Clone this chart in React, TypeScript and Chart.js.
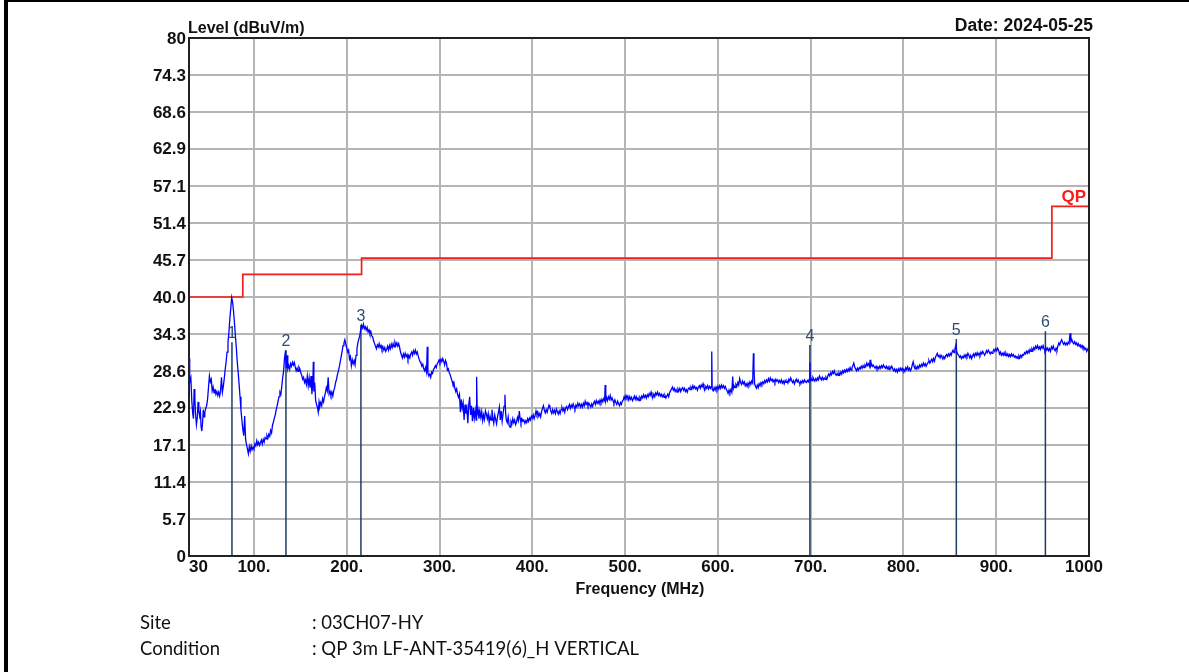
import React, { useEffect, useRef } from "react";
import { Chart, registerables } from "chart.js";

Chart.register(...registerables);

// ---------- axis ticks ----------
const yTicks = [0, 5.7, 11.4, 17.1, 22.9, 28.6, 34.3, 40.0, 45.7, 51.4, 57.1, 62.9, 68.6, 74.3, 80];
const yTickLabels = ["0", "5.7", "11.4", "17.1", "22.9", "28.6", "34.3", "40.0", "45.7", "51.4", "57.1", "62.9", "68.6", "74.3", "80"];
const xTicks = [30, 100, 200, 300, 400, 500, 600, 700, 800, 900, 1000];
const xTickLabels = ["30", "100.", "200.", "300.", "400.", "500.", "600.", "700.", "800.", "900.", "1000"];

// ---------- QP limit (MHz, dBuV/m) ----------
const limitFreq = [30, 88, 216, 960, 1000];
const limitLevel = [40, 43.5, 46, 54, 54];

// ---------- markers ----------
const markerNames = ["1", "2", "3", "4", "5", "6"];
const markerFreq = [76.3, 134.5, 215.3, 699.2, 857.0, 953.0];
const markerLevel = [33.0, 31.8, 35.7, 32.6, 33.5, 34.7];

// ---------- measured trace [MHz, dBuV/m] ----------
const traceLow: [number, number][] = [
  [30, 30.5], [30.5, 29.0], [31, 26.8], [32, 27.5], [33, 24.0], [34, 22.0], [34.8, 21.2], [35.5, 25.8], [36.3, 24.5], [37, 22.0],
  [38, 20.3], [39, 21.5], [39.8, 23.8], [40.6, 22.4], [41.5, 21.6], [42.3, 22.3], [43, 20.0], [43.8, 19.3], [44.6, 20.5], [45.4, 22.6],
  [46.2, 21.5], [47, 22.1], [48, 22.8], [49, 23.2], [50, 24.2], [51, 26.0], [52, 27.8], [53, 26.9], [54, 27.3], [55, 25.5],
  [56, 26.1], [57, 25.2], [58, 25.8], [59, 25.0], [60, 25.4], [61, 24.8], [62, 25.3], [63, 24.7], [64, 25.5], [65, 27.6],
  [66, 25.3], [67, 26.2], [68, 27.4], [69, 28.8], [70, 30.0], [71, 31.5], [72, 33.0], [73, 34.5], [74, 36.6], [75, 38.2],
  [76, 39.9], [77, 39.2], [78, 37.8], [79, 36.0], [80, 34.0], [81, 32.2], [82, 30.0], [83, 28.4], [84, 26.5], [85, 24.6],
  [86, 22.5], [87, 21.0], [88, 19.6], [89, 18.6], [90, 21.6], [91, 18.0], [92, 17.2], [93, 16.5], [94, 15.8], [95, 16.9],
  [96, 16.2], [97, 17.0], [98, 16.4], [99, 16.8], [100, 16.5], [101, 17.3], [102, 17.0], [103, 17.8], [104, 17.2], [105, 17.6],
  [106, 17.1], [107, 17.5], [108, 17.9], [109, 17.3], [110, 18.0], [111, 17.6], [112, 18.3], [113, 18.1], [114, 18.6], [115, 18.2],
  [116, 18.8], [117, 18.5], [118, 19.4], [119, 19.0], [120, 20.2], [121, 20.7], [122, 21.3], [123, 21.8], [124, 22.6], [125, 23.2],
  [126, 23.9], [127, 24.6], [128, 25.3], [129, 25.0], [130, 26.2], [131, 27.6], [132, 28.6], [133, 30.6], [134, 31.7], [135, 29.0],
  [135.8, 31.0], [136.5, 28.9], [137.5, 29.4], [138.5, 28.8], [139.5, 29.7], [140.5, 29.3], [141.5, 29.9], [142.5, 29.5], [143.5, 29.9], [144.5, 29.2],
  [145.5, 28.6], [146.5, 29.0], [147.5, 28.5], [148.5, 29.2], [149.5, 28.9], [150.5, 28.3], [151.5, 27.9], [152.5, 27.3], [153.5, 27.6], [154.5, 26.8],
  [155.5, 27.2], [156.5, 26.5], [157.5, 27.8], [158.5, 26.3], [159.5, 27.5], [160.5, 26.0], [161.5, 27.8], [162.5, 25.0], [163.5, 27.0], [164, 30.0],
  [164.6, 25.4], [165.5, 26.8], [166.5, 24.0], [167.5, 23.4], [168.5, 22.9], [169.3, 22.2], [170.2, 23.8], [171, 23.1], [172, 23.7], [173, 23.2],
  [174, 24.3], [175, 23.8], [176, 24.6], [177, 25.2], [178, 26.0], [179, 25.5], [180, 27.6], [181, 25.0], [182, 25.4], [183, 24.8],
  [184, 25.3], [185, 24.7], [186, 25.5], [187, 26.0], [188, 26.8], [189, 27.3], [190, 28.0], [191, 28.6], [192, 29.2], [193, 30.0],
  [194, 30.8], [195, 31.6], [196, 32.5], [197, 32.9], [198, 33.4], [199, 32.7], [200, 32.1], [201, 31.5], [202, 31.8], [203, 30.4],
  [204, 30.8], [205, 29.4], [206, 30.3], [207, 29.7], [208, 30.2], [209, 29.5], [210, 31.0], [211, 32.0], [212, 32.9], [213, 33.5],
  [214, 34.0], [215, 34.9], [216, 35.6], [217, 35.2], [218, 35.8], [219, 35.1], [220, 35.4], [221, 34.9], [222, 35.3], [223, 34.6],
  [224, 34.9], [225, 34.3], [226, 34.6], [227, 34.0], [228, 33.8], [229, 33.2], [230, 32.8], [231, 32.4], [232, 32.0], [233, 32.6],
  [234, 32.3], [235, 32.8], [236, 32.2], [237, 32.5], [238, 31.9], [239, 32.3], [240, 31.8], [241, 32.2], [242, 31.6], [243, 31.9],
  [244, 32.4], [245, 31.8], [246, 32.5], [247, 32.0], [248, 32.7], [249, 32.2], [250, 32.8], [251, 32.3], [252, 33.0], [253, 32.5],
  [254, 32.9], [255, 32.4], [256, 32.8], [257, 32.2], [258, 31.5], [259, 31.0], [260, 30.6]
];

const traceMid: [number, number][] = [
  [261, 31.2], [262, 30.7], [263, 31.3], [264, 30.8], [265, 31.1], [266, 30.4], [267, 31.0], [268, 30.6], [269, 31.2], [270, 31.5],
  [271, 31.0], [272, 31.7], [273, 31.3], [274, 31.8], [275, 31.2], [276, 31.5], [277, 30.9], [278, 30.4], [279, 30.0], [280, 29.8],
  [281, 29.3], [282, 29.6], [283, 28.9], [284, 28.6], [285, 29.1], [286, 28.4], [286.8, 32.3], [287.5, 28.3], [288.5, 27.8], [289.5, 28.1],
  [290.5, 27.6], [291.5, 28.4], [292.5, 28.2], [293.5, 28.8], [294.5, 29.0], [295.5, 29.4], [296.5, 29.1], [297.5, 29.7], [298.5, 29.9], [299.5, 30.3],
  [300.5, 29.9], [301.5, 30.4], [302.5, 30.0], [303.5, 30.5], [304.5, 30.1], [305.5, 29.5], [306.5, 30.2], [307.5, 29.8], [308.5, 28.7], [309.5, 28.9],
  [310.5, 28.3], [311.5, 28.0], [312.5, 27.5], [313.5, 27.0], [314.5, 26.5], [315.5, 26.8], [316.5, 25.9], [317.5, 25.4], [318.5, 25.8], [319.5, 24.9],
  [320.5, 24.5], [321.5, 25.0], [322.5, 22.2], [323.5, 24.2], [324.5, 22.8], [325.5, 23.6], [326.5, 21.0], [327.5, 23.4], [328.5, 22.0], [329.5, 22.8],
  [330.5, 20.5], [331.5, 23.3], [332.5, 24.6], [333.5, 21.8], [334.5, 23.2], [335.5, 20.8], [336.5, 22.9], [337.5, 21.3], [338.5, 22.5], [339.5, 21.0],
  [340, 27.7], [340.7, 22.0], [341.5, 22.6], [342.5, 21.2], [343.5, 22.4], [344.5, 21.4], [345.5, 22.3], [346.5, 20.9], [347.5, 21.8], [348.5, 21.1],
  [349.5, 22.4], [350.5, 21.9], [351.5, 21.2], [352.5, 22.0], [353.5, 20.6], [354.5, 21.6], [355.5, 21.0], [356.5, 22.6], [357.5, 21.3], [358.5, 20.5],
  [359.5, 21.8], [360.5, 21.1], [361.5, 20.4], [362.5, 21.5], [363.5, 22.2], [364.5, 23.0], [365.5, 21.0], [366.5, 22.4], [367.5, 20.8], [368.5, 22.0],
  [369.5, 23.1], [370.5, 24.9], [371.3, 22.0], [372, 21.0], [373, 20.6], [374, 21.5], [375, 20.2], [376, 19.9], [377, 20.8], [378, 20.4],
  [379, 21.2], [380, 20.6], [381, 21.0], [382, 20.3], [383, 20.7], [384, 21.4], [385, 20.9], [386, 22.4], [386.8, 21.3], [387.8, 20.6],
  [388.8, 21.2], [389.8, 20.8], [390.8, 21.0], [392, 20.5], [393, 20.9], [394, 20.6], [395, 21.2], [396, 20.8], [397, 21.3], [398, 21.0],
  [399, 21.6], [400, 21.3], [401, 21.8], [402, 21.2], [403, 21.7], [404, 22.4], [405, 21.8], [406, 22.2], [407, 21.6], [408, 22.0],
  [409, 21.5], [410, 22.3], [411, 22.8], [412, 23.2], [413, 22.5], [414, 22.1], [415, 22.6], [416, 22.2], [417, 22.8], [418, 23.3],
  [419, 22.9], [420, 22.4], [421, 22.0], [422, 22.6], [423, 22.1], [424, 22.5], [425, 22.0], [426, 22.7], [427, 22.3], [428, 21.9],
  [429, 22.4], [430, 22.0], [431, 22.6], [432, 22.9], [433, 22.4], [434, 22.8], [435, 22.2], [436, 22.9], [437, 23.1], [438, 22.6],
  [439, 23.0], [440, 23.4], [441, 22.8], [442, 23.3], [443, 23.0], [444, 23.5], [445, 23.1], [446, 22.7], [447, 23.3], [448, 23.0],
  [449, 23.6], [450, 23.2], [451, 23.5], [452, 23.0], [453, 23.4], [454, 23.0], [455, 23.6], [456, 23.2], [457, 23.9], [458, 23.4],
  [459, 23.7], [460, 23.2], [461, 23.6], [462, 23.3], [463, 23.0], [464, 23.5], [465, 23.1], [466, 23.6], [467, 23.9], [468, 23.4],
  [469, 24.0], [470, 23.6], [471, 23.9], [472, 23.5], [473, 24.1], [474, 23.7], [475, 24.2], [476, 23.8], [477, 24.3], [478, 24.0],
  [478.5, 26.4], [479.2, 24.0], [480, 24.5], [481, 24.0], [482, 24.6], [483, 24.2], [484, 24.8], [485, 24.1], [486, 24.4], [487, 24.0],
  [488, 23.6], [489, 24.1], [490, 23.7], [491, 23.4], [492, 23.9], [493, 23.5], [494, 23.2], [495, 23.7], [496, 23.4], [497, 23.9],
  [498, 24.1], [499, 24.6], [500, 24.2], [501, 24.8], [502, 24.4], [503, 24.7], [504, 24.1], [505, 24.6], [506, 24.2], [507, 24.5],
  [508, 24.0], [509, 24.3], [510, 24.7], [511, 24.2], [512, 24.6], [513, 24.1], [514, 24.4], [515, 24.0], [516, 24.5], [517, 24.2],
  [518, 24.7], [519, 24.4], [520, 24.9], [521, 24.5], [522, 24.8], [523, 24.4], [524, 24.9], [525, 24.6], [526, 25.1], [527, 24.8],
  [528, 25.3], [529, 24.7], [530, 24.5], [531, 25.0], [532, 24.6], [533, 25.2], [534, 24.9], [535, 25.3], [536, 24.8], [537, 25.1],
  [538, 24.7], [539, 25.0], [540, 24.6], [541, 24.9], [542, 24.5], [543, 24.8], [544, 24.4], [545, 24.7], [546, 25.0], [547, 24.6],
  [548, 25.2], [549, 25.5], [550, 25.8], [551, 26.1], [552, 25.6], [553, 25.9], [554, 25.4], [555, 25.7], [556, 25.3], [557, 25.8],
  [558, 25.5], [559, 25.9], [560, 25.4], [561, 25.8], [562, 26.0], [563, 25.6], [564, 25.9], [565, 25.4], [566, 25.7], [567, 25.3],
  [568, 25.8], [569, 26.0], [570, 25.7], [571, 26.1], [572, 25.8], [573, 26.3], [574, 25.9], [575, 26.2], [576, 25.8], [577, 26.0],
  [578, 25.6], [579, 26.1], [580, 26.3], [581, 25.9], [582, 26.4], [583, 26.1], [584, 26.6], [585, 26.0], [586, 25.7], [587, 26.2],
  [588, 25.9], [589, 26.3], [590, 25.8], [591, 26.2], [592, 25.9], [593, 26.2], [593.4, 31.6], [593.9, 25.7], [595, 25.5], [596, 26.0],
  [597, 25.6], [598, 26.1], [599, 25.7], [600, 26.2]
];

const traceHigh: [number, number][] = [
  [601, 25.8], [602, 26.3], [603, 25.9], [604, 26.4], [605, 26.0], [606, 26.3], [607, 25.9], [608, 26.2], [609, 25.8], [610, 25.5],
  [611, 25.1], [612, 25.6], [613, 25.2], [614, 25.7], [615, 25.3], [616, 27.7], [616.7, 25.9], [617.5, 26.3], [618.5, 26.0], [619.5, 26.5],
  [620.5, 26.2], [621.5, 26.8], [622.5, 26.4], [623.5, 27.4], [624.5, 26.8], [625.5, 26.5], [626.5, 27.0], [627.5, 26.6], [628.5, 26.9], [629.5, 26.3],
  [630.5, 26.6], [631.5, 26.2], [632.5, 26.7], [633.5, 26.4], [634.5, 26.9], [635.5, 26.5], [636.5, 27.0], [637.5, 26.7], [638.3, 31.3], [638.9, 29.0],
  [639.6, 26.6], [640.5, 26.2], [641.5, 25.9], [642.5, 26.4], [643.5, 26.0], [644.5, 26.6], [645.5, 26.3], [646.5, 26.8], [647.5, 26.5], [648.5, 26.9],
  [649.5, 26.6], [650.5, 27.1], [651.5, 26.8], [652.5, 27.2], [653.5, 26.9], [654.5, 27.4], [655.5, 27.0], [656.5, 27.5], [657.5, 27.1], [658.5, 27.3],
  [659.5, 26.9], [660.5, 27.2], [661.5, 26.8], [662.5, 27.3], [663.5, 27.0], [664.5, 27.2], [665.5, 26.8], [666.5, 27.1], [667.5, 26.8], [668.5, 27.2],
  [669.5, 26.7], [670.5, 27.0], [671.5, 26.6], [672.5, 27.1], [673.5, 26.8], [674.5, 27.0], [675.5, 26.7], [676.5, 27.3], [677.5, 27.0], [678.5, 27.5],
  [679.5, 27.1], [680.5, 26.8], [681.5, 27.1], [682.5, 26.6], [683.5, 27.0], [684.5, 27.3], [685.5, 26.9], [686.5, 27.2], [687.5, 26.8], [688.5, 26.6],
  [689.5, 27.0], [690.5, 26.7], [691.5, 27.1], [692.5, 26.8], [693.5, 27.2], [694.5, 26.9], [695.5, 26.8], [696.5, 27.1], [697.5, 26.9], [698.5, 27.3],
  [699.2, 29.9], [699.7, 27.1], [700.5, 27.4], [701.5, 27.1], [702.5, 27.6], [703.5, 27.3], [704.5, 27.0], [705.5, 27.4], [706.5, 27.1], [707.5, 27.5],
  [708.5, 27.2], [709.5, 27.8], [710.5, 27.5], [711.5, 27.2], [712.5, 27.6], [713.5, 27.2], [714.5, 27.5], [715.5, 27.3], [716.5, 27.6], [717.5, 27.3],
  [718.5, 27.8], [719.5, 28.1], [720.5, 27.8], [721.5, 28.3], [722.5, 28.0], [723.5, 28.5], [724.5, 28.2], [725.5, 28.6], [726.5, 28.1], [727.5, 27.9],
  [728.5, 28.2], [729.5, 27.9], [730.5, 28.3], [731.5, 28.0], [732.5, 28.4], [733.5, 28.1], [734.5, 28.6], [735.5, 28.3], [736.5, 28.7], [737.5, 28.4],
  [738.5, 28.8], [739.5, 28.5], [740.5, 28.9], [741.5, 28.6], [742.5, 29.1], [743.5, 28.7], [744.5, 29.0], [745.5, 29.4], [746.5, 29.8], [747.5, 29.2],
  [748.5, 28.9], [749.5, 28.6], [750.5, 29.0], [751.5, 28.7], [752.5, 29.1], [753.5, 28.9], [754.5, 29.3], [755.5, 29.0], [756.5, 29.4], [757.5, 29.1],
  [758.5, 29.5], [759.5, 29.3], [760.5, 29.8], [761.5, 29.4], [762.5, 29.7], [763.5, 29.3], [764.1, 30.3], [764.8, 29.4], [765.5, 29.7], [766.5, 29.3],
  [767.5, 29.5], [768.5, 29.2], [769.5, 29.0], [770.5, 29.3], [771.5, 28.9], [772.5, 29.2], [773.5, 28.9], [774.5, 29.3], [775.5, 29.0], [776.5, 29.4],
  [777.5, 29.1], [778.5, 29.5], [779.5, 29.2], [780.5, 29.0], [781.5, 29.3], [782.5, 28.9], [783.5, 29.2], [784.5, 28.8], [785.5, 29.2], [786.5, 29.0],
  [787.5, 29.3], [788.5, 28.9], [789.5, 28.6], [790.5, 28.9], [791.5, 28.5], [792.5, 28.8], [793.5, 28.4], [794.5, 28.9], [795.5, 28.6], [796.5, 29.0],
  [797.5, 28.7], [798.5, 29.0], [799.5, 28.6], [800.5, 28.8], [801.5, 28.5], [802.5, 29.1], [803.5, 28.8], [804.5, 29.2], [805.5, 28.7], [806.5, 29.0],
  [807.5, 28.6], [808.5, 28.9], [809.5, 29.5], [810.5, 30.0], [811.5, 29.3], [812.5, 28.9], [813.5, 29.2], [814.5, 28.9], [815.5, 29.3], [816.5, 29.0],
  [817.5, 29.5], [818.5, 29.2], [819.5, 29.6], [820.5, 29.3], [821.5, 29.8], [822.5, 29.4], [823.5, 29.7], [824.5, 29.3], [825.5, 29.6], [826.5, 29.9],
  [827.5, 30.2], [828.5, 29.8], [829.5, 30.1], [830.5, 30.4], [831.5, 30.0], [832.5, 30.5], [833.5, 30.1], [834.5, 30.7], [835.5, 31.0], [836.5, 31.3],
  [837.5, 30.8], [838.5, 31.0], [839.5, 30.6], [840.5, 31.0], [841.5, 30.7], [842.5, 30.4], [843.5, 30.8], [844.5, 30.5], [845.5, 30.9], [846.5, 31.1],
  [847.5, 30.8], [848.5, 31.2], [849.5, 30.9], [850.5, 31.3], [851.5, 31.0], [852.5, 31.5], [853.5, 31.8], [854.5, 31.4], [855.5, 32.0], [856.6, 32.6],
  [857.5, 31.5], [858.5, 31.2], [859.5, 31.0], [860.5, 30.7], [861.5, 30.9], [862.5, 30.5], [863.5, 30.8], [864.5, 30.6], [865.5, 31.0], [866.5, 30.7],
  [867.5, 31.1], [868.5, 30.8], [869.5, 31.3], [870.5, 31.0], [871.5, 30.6], [872.5, 31.0], [873.5, 30.5], [874.5, 30.9], [875.5, 31.2], [876.5, 30.8],
  [877.5, 31.3], [878.5, 31.0], [879.5, 31.4], [880.5, 31.0], [881.5, 31.3], [882.5, 31.0], [883.5, 31.5], [884.5, 31.2], [885.5, 31.6], [886.5, 31.3],
  [887.5, 31.0], [888.5, 31.3], [889.5, 31.7], [890.5, 31.4], [891.5, 31.8], [892.5, 31.5], [893.5, 31.2], [894.5, 31.5], [895.5, 31.3], [896.5, 31.6],
  [897.5, 31.9], [898.5, 31.6], [899.5, 32.0], [900.5, 31.7], [901.5, 32.1], [902.5, 31.8], [903.5, 31.2], [904.5, 31.5], [905.5, 31.0], [906.5, 31.3],
  [907.5, 31.0], [908.5, 31.4], [909.5, 31.0], [910.5, 31.3], [911.5, 30.9], [912.5, 31.2], [913.5, 30.8], [914.5, 31.1], [915.5, 30.8], [916.5, 31.2],
  [917.5, 30.9], [918.5, 31.1], [919.5, 30.7], [920.5, 30.9], [921.5, 30.6], [922.5, 30.8], [923.5, 30.5], [924.5, 30.9], [925.5, 30.6], [926.5, 31.0],
  [927.5, 30.7], [928.5, 31.1], [929.5, 31.0], [930.5, 31.4], [931.5, 31.2], [932.5, 31.6], [933.5, 31.3], [934.5, 31.7], [935.5, 31.4], [936.5, 31.9],
  [937.5, 31.6], [938.5, 32.0], [939.5, 31.7], [940.5, 32.2], [941.5, 31.9], [942.5, 32.4], [943.5, 32.1], [944.5, 32.5], [945.5, 32.0], [946.5, 32.3],
  [947.5, 31.9], [948.5, 32.4], [949.5, 32.1], [950.5, 32.5], [951.5, 32.0], [952.5, 31.7], [953.5, 32.2], [954.5, 31.8], [955.5, 32.1], [956.5, 31.7],
  [957.5, 32.0], [958.5, 31.6], [959.5, 32.3], [960.5, 32.0], [961.5, 32.4], [962.5, 31.9], [963.5, 31.7], [964.5, 32.1], [965.5, 31.8], [966.5, 32.5],
  [967.5, 32.9], [968.5, 32.6], [969.5, 33.1], [970.5, 33.4], [971.5, 33.0], [972.5, 32.7], [973.5, 33.0], [974.5, 32.6], [975.5, 32.9], [976.5, 32.6],
  [977.5, 33.0], [978.5, 32.8], [979.6, 34.4], [980.5, 33.1], [981.5, 33.4], [982.5, 33.0], [983.5, 32.8], [984.5, 33.1], [985.5, 32.7], [986.5, 32.9],
  [987.5, 32.5], [988.5, 32.8], [989.5, 32.4], [990.5, 32.6], [991.5, 32.2], [992.5, 32.5], [993.5, 32.1], [994.5, 32.3], [995.5, 31.9], [996.5, 32.1],
  [997.5, 31.6], [998.5, 31.9], [999.5, 32.2], [1000, 32.0]
];

// ---------- header / footer text ----------
const yAxisTitle = "Level (dBuV/m)";
const xAxisTitle = "Frequency (MHz)";
const dateText = "Date: 2024-05-25";
const limitName = "QP";
const infoLabels = ["Site", "Condition"];
const infoValues = [": 03CH07-HY", ": QP 3m LF-ANT-35419(6)_H VERTICAL"];

const W = 1189;
const H = 672;
const FONT_FAMILY = '"Liberation Sans", Arial, sans-serif';

const decorPlugin = {
  id: "decor",
  beforeDraw(chart: any) {
    const ctx = chart.ctx as CanvasRenderingContext2D;
    ctx.save();
    ctx.fillStyle = "#ffffff";
    ctx.fillRect(0, 0, chart.width, chart.height);
    ctx.fillStyle = "#000000";
    ctx.fillRect(4, 0, chart.width - 4, 2);
    ctx.fillRect(4, 0, 4, chart.height);
    ctx.restore();
  },
  afterDraw(chart: any) {
    const ctx = chart.ctx as CanvasRenderingContext2D;
    const a = chart.chartArea;
    const xs = chart.scales.x;
    const ys = chart.scales.y;
    ctx.save();
    // frame
    ctx.strokeStyle = "#222222";
    ctx.lineWidth = 2;
    ctx.strokeRect(a.left, a.top, a.right - a.left, a.bottom - a.top);

    // y tick labels
    ctx.fillStyle = "#111111";
    ctx.font = "bold 17px " + FONT_FAMILY;
    ctx.textAlign = "right";
    ctx.textBaseline = "middle";
    yTicks.forEach((v, i) => {
      ctx.fillText(yTickLabels[i], a.left - 3, ys.getPixelForValue(v) + 1);
    });
    // x tick labels
    ctx.textBaseline = "alphabetic";
    xTicks.forEach((v, i) => {
      const last = i === xTicks.length - 1;
      ctx.textAlign = i === 0 ? "left" : "center";
      ctx.fillText(xTickLabels[i], xs.getPixelForValue(v) - (last ? 5 : 0), a.bottom + 16);
    });
    // titles
    ctx.font = "bold 16px " + FONT_FAMILY;
    ctx.textAlign = "left";
    ctx.fillText(yAxisTitle, a.left - 1, a.top - 5);
    ctx.textAlign = "center";
    ctx.fillText(xAxisTitle, (a.left + a.right) / 2 + 1, a.bottom + 38);
    ctx.font = "bold 17.5px " + FONT_FAMILY;
    ctx.textAlign = "right";
    ctx.fillText(dateText, a.right + 4, a.top - 7);

    // limit name
    ctx.font = "bold 17px " + FONT_FAMILY;
    ctx.fillStyle = "#ff1a1a";
    ctx.textAlign = "right";
    ctx.fillText(limitName, a.right - 3, ys.getPixelForValue(limitLevel[limitLevel.length - 1]) - 4);

    // marker labels
    ctx.fillStyle = "#2f4e70";
    ctx.font = "16px " + FONT_FAMILY;
    ctx.textAlign = "center";
    markerFreq.forEach((f, i) => {
      ctx.fillText(markerNames[i], xs.getPixelForValue(f), ys.getPixelForValue(markerLevel[i]) - 4);
    });

    // footer
    ctx.fillStyle = "#111111";
    ctx.font = '18.5px Lato, "Open Sans", sans-serif';
    ctx.textAlign = "left";
    infoLabels.forEach((t, i) => {
      ctx.fillText(t, 140, 629 + i * 26);
      ctx.fillText(infoValues[i], 312, 629 + i * 26);
    });
    ctx.restore();
  },
};

export default function App() {
  const ref = useRef<HTMLCanvasElement | null>(null);

  useEffect(() => {
    if (!ref.current) return;
    const trace = [...traceLow, ...traceMid, ...traceHigh].map(([x, y]) => ({ x, y }));
    const limit = limitFreq.map((x, i) => ({ x, y: limitLevel[i] }));
    const markers: { x: number; y: number | null }[] = [];
    markerFreq.forEach((f, i) => {
      markers.push({ x: f, y: 0 }, { x: f, y: markerLevel[i] }, { x: f, y: null });
    });

    const chart = new Chart(ref.current, {
      type: "line",
      data: {
        datasets: [
          {
            label: "Trace",
            data: trace,
            borderColor: "#0000ff",
            borderWidth: 1.3,
            pointRadius: 0,
            tension: 0,
          },
          {
            label: "Markers",
            data: markers as any,
            borderColor: "#1d3f66",
            borderWidth: 1.5,
            pointRadius: 0,
            spanGaps: false,
          },
          {
            label: "QP",
            data: limit,
            borderColor: "#f01e1e",
            borderWidth: 1.7,
            pointRadius: 0,
            stepped: true,
          },
        ],
      },
      options: {
        animation: false,
        responsive: false,
        events: [],
        layout: { padding: { top: 38, right: 100, left: 0, bottom: 0 } },
        plugins: {
          legend: { display: false },
          tooltip: { enabled: false },
        },
        scales: {
          x: {
            type: "linear",
            min: 30,
            max: 1000,
            afterBuildTicks: (s: any) => {
              s.ticks = xTicks.map((v) => ({ value: v }));
            },
            afterFit: (s: any) => {
              s.height = H - 556;
            },
            ticks: { display: false },
            grid: { color: "#b5b5b5", lineWidth: 2, drawTicks: false },
            border: { display: true, color: "#222222", width: 2 },
          },
          y: {
            type: "linear",
            min: 0,
            max: 80,
            afterBuildTicks: (s: any) => {
              s.ticks = yTicks.map((v) => ({ value: v }));
            },
            afterFit: (s: any) => {
              s.width = 189;
            },
            ticks: { display: false },
            grid: { color: "#b5b5b5", lineWidth: 2, drawTicks: false },
            border: { display: true, color: "#222222", width: 2 },
          },
        },
      },
      plugins: [decorPlugin],
    });
    return () => chart.destroy();
  }, []);

  return (
    <div style={{ position: "fixed", left: 0, top: 0, width: W, height: H, background: "#fff" }}>
      <canvas ref={ref} width={W} height={H} style={{ display: "block", width: W, height: H }} />
    </div>
  );
}
